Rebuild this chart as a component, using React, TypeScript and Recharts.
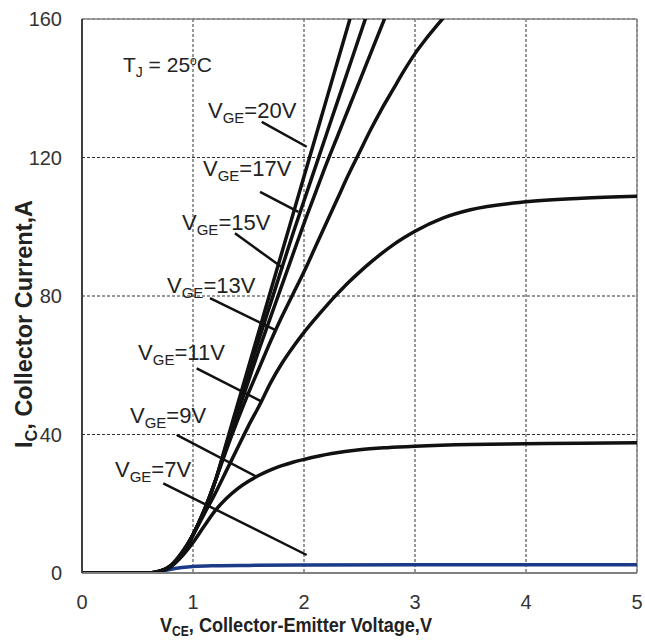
import React from 'react'
import { LineChart, Line, XAxis, YAxis, CartesianGrid, ReferenceLine, ReferenceDot } from 'recharts'

// Output characteristics, IC vs VCE at TJ = 25°C, one curve per gate voltage
const vge7: [number, number][] = [
  [0, 0], [0.6, 0], [0.7, 0.4], [0.8, 1.1], [0.9, 1.6], [1.0, 1.9], [1.2, 2.1], [1.5, 2.2],
  [2.0, 2.3], [3.0, 2.4], [4.0, 2.4], [5.0, 2.4],
]
const vge9: [number, number][] = [
  [0, 0], [0.6, 0], [0.7, 0.4], [0.8, 1.8], [0.9, 4.8], [1.0, 8.8], [1.1, 13.5], [1.2, 18],
  [1.3, 21.5], [1.4, 24.3], [1.5, 26.5], [1.6, 28.3], [1.7, 29.8], [1.8, 31], [1.9, 32],
  [2.0, 32.8], [2.25, 34.5], [2.5, 35.6], [2.75, 36.2], [3.0, 36.6], [3.5, 37.1], [4.0, 37.3],
  [4.5, 37.5], [5.0, 37.6],
]
const vge11: [number, number][] = [
  [0, 0], [0.6, 0], [0.7, 0.5], [0.8, 2.2], [0.9, 6], [1.0, 11], [1.1, 17], [1.2, 23],
  [1.3, 29.5], [1.4, 36], [1.5, 42.5], [1.6, 48.5], [1.7, 55], [1.8, 60.5], [1.9, 65.2],
  [2.0, 69.5], [2.1, 73.4], [2.2, 77.1], [2.3, 80.6], [2.4, 83.9], [2.5, 86.9], [2.6, 89.7],
  [2.7, 92.3], [2.8, 94.7], [2.9, 96.8], [3.0, 98.7], [3.25, 102.5], [3.5, 104.9], [4.0, 107.2],
  [4.5, 108.2], [5.0, 108.8],
]
const vge13: [number, number][] = [
  [0, 0], [0.6, 0], [0.7, 0.5], [0.8, 2], [0.9, 5.5], [1.0, 11], [1.1, 18], [1.2, 26.5],
  [1.3, 35.5], [1.4, 44], [1.5, 52], [1.6, 59.5], [1.7, 67], [1.8, 74], [1.9, 80.5], [2.0, 87],
  [2.1, 94], [2.2, 101], [2.3, 108], [2.4, 115], [2.5, 121.5], [2.6, 128], [2.7, 134],
  [2.8, 139.5], [2.9, 145], [3.0, 150], [3.1, 154.3], [3.2, 158.2], [3.3, 162], [3.4, 165.6],
]
const vge15: [number, number][] = [
  [0, 0], [0.6, 0], [0.7, 0.5], [0.8, 2], [0.9, 5.5], [1.0, 11], [1.1, 18], [1.2, 26.5],
  [1.3, 36.5], [1.4, 46], [1.5, 55.5], [1.6, 65], [1.7, 74], [1.8, 83], [1.9, 92], [2.0, 101],
  [2.1, 109.5], [2.2, 118], [2.3, 126], [2.4, 134], [2.5, 142], [2.6, 150], [2.7, 158], [2.8, 166],
]
const vge17: [number, number][] = [
  [0, 0], [0.6, 0], [0.7, 0.5], [0.8, 2], [0.9, 5.5], [1.0, 11], [1.1, 18], [1.2, 26.5],
  [1.3, 37], [1.4, 47.5], [1.5, 58], [1.6, 68], [1.7, 78], [1.8, 88], [1.9, 98], [2.0, 107.5],
  [2.1, 117], [2.2, 126.5], [2.3, 136], [2.4, 145.5], [2.5, 155], [2.6, 164.5],
]
const vge20: [number, number][] = [
  [0, 0], [0.6, 0], [0.7, 0.5], [0.8, 2], [0.9, 5.5], [1.0, 11], [1.1, 18], [1.2, 26.5],
  [1.3, 37.5], [1.4, 48.5], [1.5, 59.5], [1.6, 70.5], [1.7, 81.5], [1.8, 92.5], [1.9, 103.5],
  [2.0, 114.5], [2.1, 125.5], [2.2, 136.5], [2.3, 147.5], [2.4, 158.5], [2.5, 169.5],
]

const xTicks = [0, 1, 2, 3, 4, 5]
const yTicks = [0, 40, 80, 120, 160]

// curve label: gate voltage, text anchor (v, i), leader from -> to
const labels = [
  { vge: 20, at: [1.135, 131.4], from: [1.619, 130.3], to: [2.024, 123.1] },
  { vge: 17, at: [1.09, 114.7], from: [1.604, 110.1], to: [1.949, 104.3] },
  { vge: 15, at: [0.901, 99.1], from: [1.378, 98.1], to: [1.814, 88.0] },
  { vge: 13, at: [0.766, 80.9], from: [1.153, 79.4], to: [1.739, 70.2] },
  { vge: 11, at: [0.505, 61.5], from: [1.033, 59.1], to: [1.619, 49.5] },
  { vge: 9, at: [0.432, 43.3], from: [0.853, 39.9], to: [1.574, 27.8] },
  { vge: 7, at: [0.297, 27.7], from: [0.732, 25.9], to: [2.024, 5.2] },
]

const series = [
  { name: 'VGE=7V', pts: vge7, color: '#1b3a88' },
  { name: 'VGE=9V', pts: vge9, color: '#111' },
  { name: 'VGE=11V', pts: vge11, color: '#111' },
  { name: 'VGE=13V', pts: vge13, color: '#111' },
  { name: 'VGE=15V', pts: vge15, color: '#111' },
  { name: 'VGE=17V', pts: vge17, color: '#111' },
  { name: 'VGE=20V', pts: vge20, color: '#111' },
]

const font = '"Liberation Sans", Arial, sans-serif'
const tickStyle = { fontSize: 20, fontFamily: font, fill: '#333' }

const GeLabel = ({ cx, cy, vge }: any) => (
  <text x={cx} y={cy} fontSize={22} fontFamily={font} fill="#222">
    V<tspan dy={5} fontSize={15}>GE</tspan>
    <tspan dy={-5}>={vge}V</tspan>
  </text>
)

const TjLabel = ({ cx, cy }: any) => (
  <text x={cx} y={cy} fontSize={21} fontFamily={font} fill="#222">
    T<tspan dy={5} fontSize={14}>J</tspan>
    <tspan dy={-5}> = 25</tspan>
    <tspan dy={-7} fontSize={12}>o</tspan>
    <tspan dy={7}>C</tspan>
  </text>
)

const XTitle = ({ viewBox }: any) => (
  <text
    x={viewBox.x + 78}
    y={viewBox.y + 59}
    fontSize={21}
    fontWeight="bold"
    fontFamily={font}
    fill="#222"
    textLength={272}
    lengthAdjust="spacingAndGlyphs"
  >
    V<tspan dy={4} fontSize={14}>CE</tspan>
    <tspan dy={-4}>, Collector-Emitter Voltage,V</tspan>
  </text>
)

const YTitle = ({ viewBox }: any) => (
  <text
    transform={`translate(${viewBox.x + 10}, ${viewBox.y + 429}) rotate(-90)`}
    fontSize={23}
    fontWeight="bold"
    fontFamily={font}
    fill="#222"
    textLength={248}
    lengthAdjust="spacingAndGlyphs"
  >
    I<tspan dy={5} fontSize={16}>C</tspan>
    <tspan dy={-5}>, Collector Current,A</tspan>
  </text>
)

export default function App() {
  return (
    <div style={{ position: 'absolute', left: 0, top: 0, width: 645, height: 641, background: '#fff' }}>
      <LineChart width={645} height={641} margin={{ top: 19, right: 8, left: 22, bottom: 38 }}>
        <CartesianGrid stroke="#333" strokeDasharray="3 2" />
        <XAxis
          type="number"
          dataKey="v"
          domain={[0, 5]}
          ticks={xTicks}
          height={30}
          tickSize={0}
          tickMargin={22}
          tick={tickStyle}
          axisLine={{ stroke: '#808080', strokeWidth: 2 }}
          label={{ content: XTitle }}
        />
        <YAxis
          type="number"
          dataKey="i"
          domain={[0, 160]}
          ticks={yTicks}
          allowDataOverflow
          width={60}
          tickSize={0}
          tickMargin={20}
          tick={tickStyle}
          axisLine={{ stroke: '#404040', strokeWidth: 2 }}
          label={{ content: YTitle }}
        />
        <ReferenceLine y={160} stroke="#8a8a8a" strokeWidth={1.5} />
        <ReferenceLine x={5} stroke="#8a8a8a" strokeWidth={1.5} />
        {series.map((s) => (
          <Line
            key={s.name}
            name={s.name}
            data={s.pts.map(([v, i]) => ({ v, i }))}
            dataKey="i"
            type="monotone"
            stroke={s.color}
            strokeWidth={3.5}
            dot={false}
            isAnimationActive={false}
          />
        ))}
        {labels.map((l) => (
          <ReferenceLine
            key={'lead' + l.vge}
            segment={[{ x: l.from[0], y: l.from[1] }, { x: l.to[0], y: l.to[1] }]}
            stroke="#111"
            strokeWidth={2.5}
          />
        ))}
        {labels.map((l) => (
          <ReferenceDot
            key={'lab' + l.vge}
            x={l.at[0]}
            y={l.at[1]}
            r={0}
            shape={(p: any) => <GeLabel cx={p.cx} cy={p.cy} vge={l.vge} />}
          />
        ))}
        <ReferenceDot x={0.369} y={144.7} r={0} shape={(p: any) => <TjLabel cx={p.cx} cy={p.cy} />} />
      </LineChart>
    </div>
  )
}
